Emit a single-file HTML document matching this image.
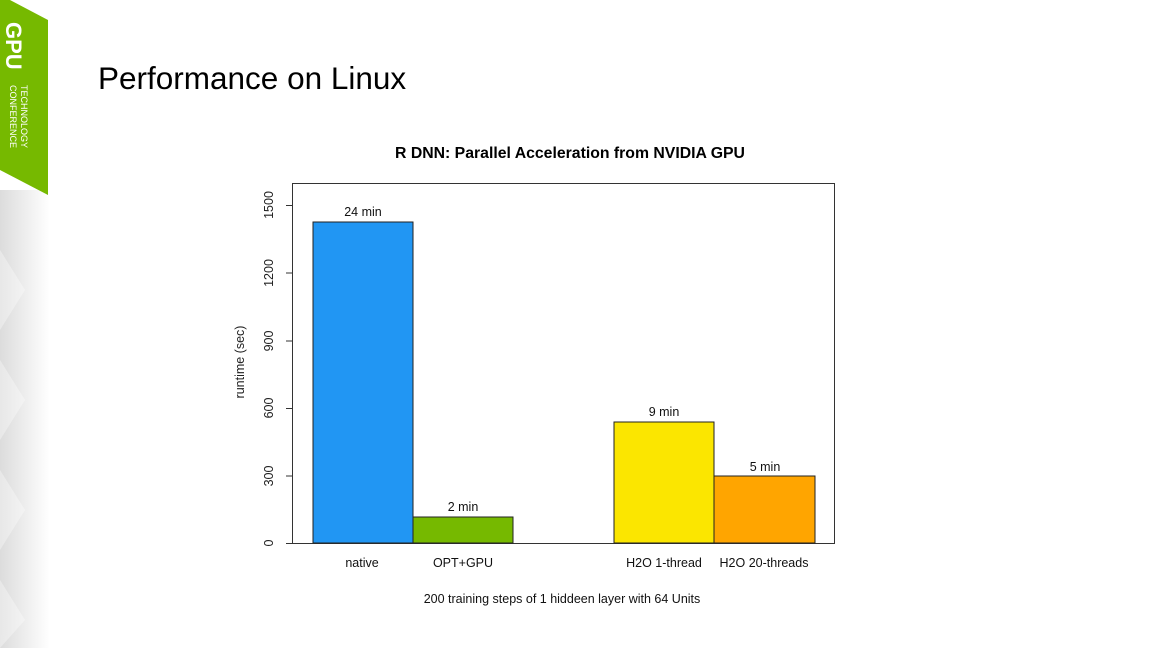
<!DOCTYPE html>
<html><head><style>
body{margin:0;width:1152px;height:648px;background:#fff;overflow:hidden;font-family:"Liberation Sans",sans-serif;position:relative}
</style></head><body>
<svg width="1152" height="648" style="position:absolute;left:0;top:0" font-family="Liberation Sans, sans-serif">
<defs><linearGradient id="g" x1="0" x2="1"><stop offset="0" stop-color="#dcdcdc"/><stop offset="1" stop-color="#fff"/></linearGradient></defs>
<rect x="0" y="190" width="50" height="458" fill="url(#g)"/>
<g fill="#fff" opacity="0.35">
<polygon points="0,250 25,290 0,330"/><polygon points="0,360 25,400 0,440"/><polygon points="0,470 25,510 0,550"/><polygon points="0,580 25,620 0,648"/>
</g>
<polygon points="0,0 10,0 48,20 48,195 0,170" fill="#76b900"/>
<text transform="translate(6,22) rotate(90)" font-size="22" font-weight="bold" fill="#fff">GPU</text>
<text transform="translate(21,85) rotate(90)" font-size="9" fill="#fff">TECHNOLOGY</text>
<text transform="translate(10,85) rotate(90)" font-size="9" fill="#fff">CONFERENCE</text>
<text x="98" y="89" font-size="31.5" fill="#000">Performance on Linux</text>
<text x="570" y="158" font-size="15.8" font-weight="bold" text-anchor="middle">R DNN: Parallel Acceleration from NVIDIA GPU</text>
<rect x="292.5" y="183.5" width="542" height="360" fill="none" stroke="#333" stroke-width="1"/>
<g stroke="#333" stroke-width="1">
<line x1="286" y1="543.5" x2="292" y2="543.5"/><line x1="286" y1="476" x2="292" y2="476"/><line x1="286" y1="408.5" x2="292" y2="408.5"/><line x1="286" y1="341" x2="292" y2="341"/><line x1="286" y1="273" x2="292" y2="273"/><line x1="286" y1="205.5" x2="292" y2="205.5"/>
</g>
<g font-size="12.5" fill="#222" text-anchor="middle">
<text transform="translate(273,543) rotate(-90)">0</text>
<text transform="translate(273,476) rotate(-90)">300</text>
<text transform="translate(273,408) rotate(-90)">600</text>
<text transform="translate(273,341) rotate(-90)">900</text>
<text transform="translate(273,273) rotate(-90)">1200</text>
<text transform="translate(273,205) rotate(-90)">1500</text>
<text transform="translate(244,362) rotate(-90)">runtime (sec)</text>
</g>
<g stroke="#222" stroke-width="1">
<rect x="313" y="222" width="100" height="321" fill="#2196f3"/>
<rect x="413" y="517" width="100" height="26" fill="#76b900"/>
<rect x="614" y="422" width="100" height="121" fill="#fbe600"/>
<rect x="714" y="476" width="101" height="67" fill="#ffa500"/>
</g>
<g font-size="12.5" fill="#111" text-anchor="middle">
<text x="363" y="216">24 min</text>
<text x="463" y="511">2 min</text>
<text x="664" y="416">9 min</text>
<text x="765" y="471">5 min</text>
<text x="362" y="567">native</text>
<text x="463" y="567">OPT+GPU</text>
<text x="664" y="567">H2O 1-thread</text>
<text x="764" y="567">H2O 20-threads</text>
<text x="562" y="603">200 training steps of 1 hiddeen layer with 64 Units</text>
</g>
</svg>
</body></html>
